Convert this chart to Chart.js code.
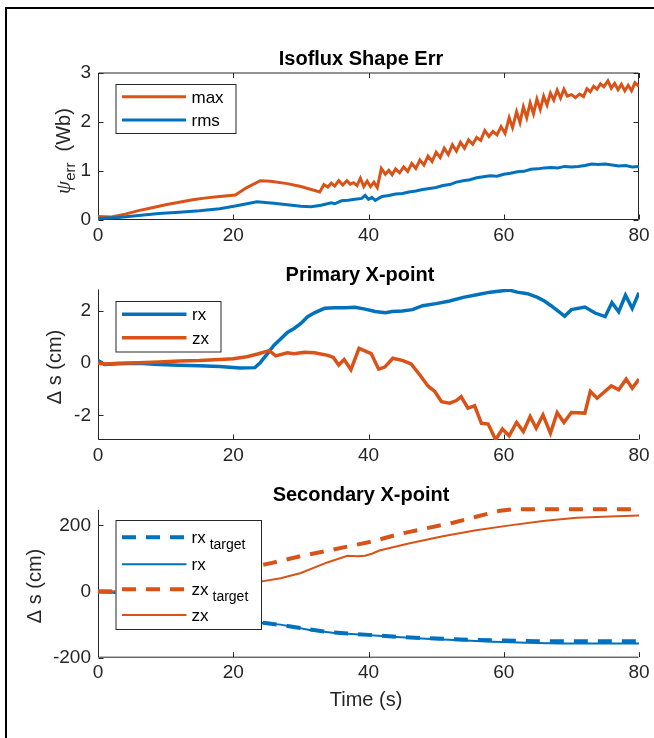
<!DOCTYPE html>
<html>
<head>
<meta charset="utf-8">
<title>X-point control</title>
<script src="https://cdn.jsdelivr.net/npm/chart.js@4.4.1/dist/chart.umd.min.js"></script>
<style>
  body { margin: 0; background: #fff; }
  #fig { position: relative; width: 654px; height: 738px; overflow: hidden; background: #fff; }
  #frame { position: absolute; left: 5px; top: 7px; width: 800px; height: 900px;
           border-left: 2px solid #000; border-top: 2px solid #000; }
  canvas { position: absolute; left: 0; }
</style>
</head>
<body>
<div id="fig">
  <div id="frame"></div>
  <canvas id="iso" width="654" height="250" style="top:0px"></canvas>
  <canvas id="pri" width="654" height="220" style="top:250px"></canvas>
  <canvas id="sec" width="654" height="268" style="top:470px"></canvas>
</div>
<script>
// ---- data ----
const timeTicks = [0, 20, 40, 60, 80];
const isoTicks = [0, 1, 2, 3];
const priTicks = [-2, 0, 2];
const secTicks = [-200, 0, 200];

// Isoflux shape error (Wb)
const isoMaxT = [0, 2, 4, 6, 8, 10, 12, 14, 16, 18, 20.3, 22, 24, 25.5, 28, 30, 32.8,
  33.4, 34.0, 34.5, 35.0, 35.6, 36.2, 36.8, 37.3, 37.8, 38.3, 38.8, 39.3, 39.8, 40.3, 40.8, 41.3,
  41.9, 42.5, 43.0, 43.5, 44.0, 44.6, 45.2, 45.8, 46.4, 47.0, 47.6, 48.2, 48.8, 49.4, 50.0, 50.6,
  51.2, 51.8, 52.4, 53.0, 53.6, 54.2, 54.8, 55.4, 56.0, 56.6, 57.2, 57.8, 58.4, 59.0, 59.6, 60.2,
  60.8, 61.3, 61.9, 62.4, 62.9, 63.4, 63.9, 64.4, 64.9, 65.4, 65.9, 66.4, 66.9, 67.4, 67.9, 68.4,
  68.9, 69.4, 70.0, 70.6, 71.2, 71.8, 72.3, 72.8, 73.3, 73.8, 74.3, 74.8, 75.4, 75.9, 76.4, 76.9,
  77.4, 77.9, 78.4, 78.9, 79.4, 80.0];
const isoMax = [0.07, 0.06, 0.12, 0.19, 0.25, 0.31, 0.36, 0.41, 0.45, 0.48, 0.51, 0.66, 0.80, 0.79, 0.74, 0.68, 0.57,
  0.72, 0.67, 0.75, 0.69, 0.80, 0.71, 0.80, 0.73, 0.76, 0.70, 0.85, 0.68, 0.79, 0.68, 0.77, 0.66,
  1.05, 0.93, 1.01, 0.92, 1.04, 0.96, 1.08, 0.99, 1.15, 1.05, 1.22, 1.12, 1.30, 1.19, 1.38, 1.27,
  1.46, 1.33, 1.53, 1.40, 1.58, 1.46, 1.63, 1.54, 1.68, 1.62, 1.82, 1.70, 1.80, 1.73, 1.90, 1.76,
  2.08, 1.88, 2.20, 1.98, 2.30, 2.08, 2.38, 2.16, 2.46, 2.25, 2.52, 2.34, 2.58, 2.44, 2.64, 2.48,
  2.66, 2.52, 2.55, 2.49, 2.56, 2.51, 2.67, 2.61, 2.72, 2.66, 2.77, 2.71, 2.83, 2.68, 2.78, 2.65,
  2.76, 2.63, 2.74, 2.63, 2.79, 2.72];
const isoRmsT = [0, 3, 6, 9, 12, 15, 18, 20.5, 23.5, 26, 28, 30, 31.5, 33, 34.5, 35, 36, 37, 38, 39, 39.5,
  40, 40.5, 41, 42, 43, 44, 45, 46, 47, 48, 49, 50, 51, 52, 53, 54, 55, 56, 57, 58, 59, 60,
  61, 62, 63, 64, 65, 66, 67, 68, 69, 70, 71, 72, 73, 74, 75, 76, 77, 78, 79, 80];
const isoRms = [0.03, 0.05, 0.09, 0.13, 0.16, 0.19, 0.23, 0.29, 0.37, 0.34, 0.31, 0.28, 0.27, 0.30, 0.35, 0.33, 0.39, 0.40, 0.42, 0.44, 0.50,
  0.42, 0.46, 0.40, 0.48, 0.50, 0.53, 0.54, 0.57, 0.59, 0.62, 0.64, 0.66, 0.70, 0.72, 0.77, 0.80, 0.82, 0.86, 0.88, 0.90, 0.89, 0.93,
  0.95, 0.98, 0.99, 1.03, 1.04, 1.06, 1.07, 1.06, 1.09, 1.08, 1.09, 1.11, 1.14, 1.13, 1.14, 1.12, 1.10, 1.11, 1.08, 1.09];

// Primary X-point (cm)
const priRxT = [0, 1, 3, 6, 9, 12, 15, 18, 21, 23.2, 24, 25, 26, 27, 28, 29, 30, 31, 32, 33.5, 35, 36.5,
  38, 39.5, 41, 42.5, 43.5, 45, 46.5, 48, 50, 52, 54, 56, 58, 59.5, 60.8, 62, 63.5, 65, 66, 67,
  68, 69, 70, 72, 73.5, 75, 76, 77, 78, 79, 80];
const priRx = [0.10, -0.05, -0.02, 0.00, -0.05, -0.08, -0.10, -0.13, -0.18, -0.17, 0.02, 0.35, 0.68, 0.93, 1.18, 1.33, 1.52, 1.78, 1.93, 2.10, 2.12, 2.12,
  2.14, 2.07, 1.98, 1.93, 1.98, 2.00, 2.05, 2.20, 2.28, 2.38, 2.52, 2.62, 2.72, 2.76, 2.80, 2.72, 2.66, 2.52, 2.38, 2.20,
  2.00, 1.80, 2.05, 2.15, 1.92, 1.78, 2.32, 1.97, 2.60, 2.10, 2.70];
const priZxT = [0, 1, 3, 6, 9, 12, 15, 18, 20, 22, 23.6, 25.3, 26.3, 28, 29, 30.5, 32, 34, 34.8, 35.6, 36.4, 37.4,
  38.6, 40.4, 41.5, 42.4, 43.6, 45.1, 46.3, 47.6, 48.8, 49.8, 50.8, 52, 53, 53.7, 54.7, 55.7, 56.7, 57.7,
  58.8, 59.8, 60.8, 61.9, 62.9, 63.9, 64.8, 65.8, 66.9, 67.9, 68.9, 70, 72, 72.8, 73.8, 75.9, 77, 78.1, 79, 80];
const priZx = [0.00, -0.03, 0.00, 0.02, 0.05, 0.08, 0.10, 0.14, 0.17, 0.25, 0.35, 0.48, 0.28, 0.40, 0.36, 0.42, 0.40, 0.30, 0.22, -0.07, 0.14, -0.25,
  0.57, 0.37, -0.23, -0.15, 0.19, 0.10, -0.03, -0.45, -0.87, -1.08, -1.47, -1.53, -1.43, -1.28, -1.72, -1.63, -2.30, -2.33,
  -2.93, -2.52, -2.78, -2.27, -2.62, -2.04, -2.49, -1.98, -2.68, -1.89, -2.27, -1.89, -1.91, -1.08, -1.34, -0.87, -1.02, -0.61, -0.96, -0.61];

// Secondary X-point (cm)
const secRxTgtT = [0, 2, 5, 10, 15, 20, 22, 25, 28, 31, 34, 37, 40, 45, 50, 55, 60, 65, 70, 75, 80];
const secRxTgt = [0, -1, -10, -35, -60, -80, -88, -96, -104, -114, -122, -127, -131, -138, -142, -146, -148, -150, -150, -150, -150];
const secRxT = [0, 2, 5, 10, 15, 20, 22, 24, 27, 31.5, 35, 38.7, 43.6, 48.5, 53.5, 58.4, 63.4, 68.3, 73.2, 80];
const secRx = [0, -3, -12, -37, -62, -82, -89, -94, -100, -117, -125, -130, -137, -143, -147, -152, -155, -157, -157, -157];
const secZxTgtT = [0, 6, 25.6, 30, 35, 40.5, 44.6, 48.5, 52.5, 55.9, 59.4, 61.5, 80];
const secZxTgt = [0, 0, 86, 107, 128, 151, 174, 191, 208, 226, 244, 249, 249];
const secZxT = [0, 3, 6, 10, 15, 20, 24, 27, 30, 33.9, 36.9, 38.4, 39.5, 40.6, 41.6, 46.1, 51, 55.9, 60.9, 65.8, 70.8, 75.7, 80];
const secZx = [0, 1, 3, 7, 13, 21, 30, 40, 56, 88, 108, 107, 108, 115, 124, 146, 167, 185, 200, 213, 223, 227, 230];

// ---- style ----
const BLUE = '#0072BD';
const ORANGE = '#D95319';
const AXIS = '#262626';
const SANS = '"Liberation Sans", Arial, Helvetica, sans-serif';
const SERIF = '"Liberation Serif", "DejaVu Serif", serif';

const pts = (t, v) => t.map((x, i) => ({ x, y: v[i] }));

function line(label, t, v, color, width, dash) {
  return {
    label, data: pts(t, v), borderColor: color, borderWidth: width,
    borderDash: dash || [], pointRadius: 0, tension: 0, fill: false
  };
}

// draws a run of text pieces (with subscript offsets) starting at x0
function drawParts(ctx, parts, x0, y0, rotate, centered) {
  ctx.save();
  ctx.translate(x0, y0);
  if (rotate) ctx.rotate(-Math.PI / 2);
  ctx.textAlign = 'left';
  ctx.textBaseline = 'alphabetic';
  let w = 0;
  parts.forEach(p => { ctx.font = p.font; w += ctx.measureText(p.text).width + (p.gap || 0); });
  let cx = centered ? -w / 2 : 0;
  parts.forEach(p => {
    ctx.font = p.font;
    cx += p.gap || 0;
    ctx.fillText(p.text, cx, p.dy || 0);
    cx += ctx.measureText(p.text).width;
  });
  ctx.restore();
}

// MATLAB-like axes: left/bottom (optionally full box), inward ticks, title, labels, legend
const matAxes = {
  id: 'matAxes',
  beforeDatasetsDraw(chart, args, o) {
    const { ctx, chartArea: a, scales: { x, y } } = chart;
    const L = a.left + 0.5, B = a.bottom - 0.5, T = a.top + 0.5, R = a.right - 0.5;
    ctx.save();
    ctx.strokeStyle = AXIS;
    ctx.lineWidth = 1;
    ctx.beginPath();
    ctx.moveTo(L, T); ctx.lineTo(L, B); ctx.lineTo(R, B);
    if (o.box) { ctx.lineTo(R, T); ctx.lineTo(L, T); }
    x.ticks.forEach(t => {
      const px = Math.round(x.getPixelForValue(t.value)) + 0.5;
      ctx.moveTo(px, B); ctx.lineTo(px, B - 5);
      if (o.box) { ctx.moveTo(px, T); ctx.lineTo(px, T + 5); }
    });
    y.ticks.forEach(t => {
      const py = Math.round(y.getPixelForValue(t.value)) + 0.5;
      ctx.moveTo(L, py); ctx.lineTo(L + 5, py);
      if (o.box) { ctx.moveTo(R, py); ctx.lineTo(R - 5, py); }
    });
    ctx.stroke();
    ctx.restore();
  },
  afterDraw(chart, args, o) {
    const { ctx, chartArea: a } = chart;
    ctx.save();
    ctx.fillStyle = '#000';
    ctx.font = 'bold 20px ' + SANS;
    ctx.textAlign = 'center';
    ctx.fillText(o.title, o.titleX, a.top - o.titleGap);
    ctx.fillStyle = AXIS;
    drawParts(ctx, o.ylabel, o.ylabelX, o.ylabelY, true, true);
    if (o.xlabel) drawParts(ctx, o.xlabel, o.xlabelX, o.xlabelY, false, true);

    const L = o.legend;
    ctx.fillStyle = '#fff';
    ctx.fillRect(L.x, L.y, L.w, L.h);
    ctx.strokeStyle = AXIS;
    ctx.lineWidth = 1;
    ctx.strokeRect(L.x + 0.5, L.y + 0.5, L.w, L.h);
    L.rows.forEach(r => {
      ctx.strokeStyle = r.color;
      ctx.lineWidth = r.width;
      ctx.setLineDash(r.dash || []);
      ctx.beginPath();
      ctx.moveTo(L.lineX0, r.y);
      ctx.lineTo(L.lineX1, r.y);
      ctx.stroke();
      ctx.setLineDash([]);
      ctx.fillStyle = '#000';
      drawParts(ctx, r.parts, L.textX, r.y + 6, false, false);
    });
    ctx.restore();
  }
};

function makeChart(id, c) {
  c.datasets.forEach(d => { if (c.clip !== undefined) d.clip = c.clip; });
  return new Chart(document.getElementById(id), {
    type: 'line',
    data: { datasets: c.datasets },
    options: {
      responsive: false,
      animation: false,
      events: [],
      layout: { padding: { left: 0, right: 15, top: c.top, bottom: 0 } },
      plugins: { legend: { display: false }, tooltip: { enabled: false }, matAxes: c.frame },
      scales: {
        x: {
          type: 'linear', min: 0, max: 80,
          grid: { display: false, drawTicks: false }, border: { display: false },
          afterBuildTicks: s => { s.ticks = timeTicks.map(v => ({ value: v })); },
          afterFit: s => { s.height = c.height - c.bottom; },
          ticks: { color: AXIS, font: { family: SANS, size: 19 }, padding: 4, maxRotation: 0, autoSkip: false }
        },
        y: {
          type: 'linear', min: c.ymin, max: c.ymax,
          grid: { display: false, drawTicks: false }, border: { display: false },
          afterBuildTicks: s => { s.ticks = c.yticks.map(v => ({ value: v })); },
          afterFit: s => { s.width = 98; },
          ticks: { color: AXIS, font: { family: SANS, size: 19 }, padding: 7, autoSkip: false }
        }
      }
    },
    plugins: [matAxes]
  });
}

const legFont = '17px ' + SANS;
const subFont = '14px ' + SANS;

makeChart('iso', {
  height: 250, top: 72.5, bottom: 220, ymin: 0, ymax: 3, yticks: isoTicks,
  datasets: [
    line('rms', isoRmsT, isoRms, BLUE, 3),
    line('max', isoMaxT, isoMax, ORANGE, 3)
  ],
  frame: {
    box: true,
    title: 'Isoflux Shape Err', titleX: 361, titleGap: 8,
    ylabel: [
      { text: 'ψ', font: 'italic 21px ' + SERIF },
      { text: 'err', font: '15px ' + SANS, dy: 5 },
      { text: '  (Wb)', font: '20px ' + SANS }
    ],
    ylabelX: 70, ylabelY: 151,
    legend: {
      x: 115.5, y: 84, w: 120, h: 49, lineX0: 122, lineX1: 186, textX: 191.5,
      rows: [
        { y: 96.7, color: ORANGE, width: 3, parts: [{ text: 'max', font: legFont }] },
        { y: 120, color: BLUE, width: 3, parts: [{ text: 'rms', font: legFont }] }
      ]
    }
  }
});

makeChart('pri', {
  height: 220, top: 39, bottom: 190, ymin: -2.94, ymax: 2.84, yticks: priTicks,
  datasets: [
    line('zx', priZxT, priZx, ORANGE, 3.5),
    line('rx', priRxT, priRx, BLUE, 3.5)
  ],
  frame: {
    box: false,
    title: 'Primary X-point', titleX: 360, titleGap: 8,
    ylabel: [{ text: 'Δ s (cm)', font: '20px ' + SANS }],
    ylabelX: 61, ylabelY: 117,
    legend: {
      x: 115.5, y: 51, w: 105, h: 50.5, lineX0: 122, lineX1: 186.5, textX: 192,
      rows: [
        { y: 64.3, color: BLUE, width: 3.5, parts: [{ text: 'rx', font: legFont }] },
        { y: 87.7, color: ORANGE, width: 3.5, parts: [{ text: 'zx', font: legFont }] }
      ]
    }
  }
});

makeChart('sec', {
  height: 268, top: 39.3, bottom: 187.7, ymin: -200, ymax: 248.6, yticks: secTicks, clip: 4,
  datasets: [
    line('zx', secZxT, secZx, ORANGE, 2),
    line('zx target', secZxTgtT, secZxTgt, ORANGE, 4, [14, 10]),
    line('rx', secRxT, secRx, BLUE, 2),
    line('rx target', secRxTgtT, secRxTgt, BLUE, 4, [14, 10])
  ],
  frame: {
    box: false,
    title: 'Secondary X-point', titleX: 361, titleGap: 8,
    ylabel: [{ text: 'Δ s (cm)', font: '20px ' + SANS }],
    ylabelX: 41, ylabelY: 116,
    xlabel: [{ text: 'Time (s)', font: '20px ' + SANS }],
    xlabelX: 366, xlabelY: 236,
    legend: {
      x: 115.5, y: 50, w: 145.5, h: 109, lineX0: 122, lineX1: 186.5, textX: 191.5,
      rows: [
        { y: 67.3, color: BLUE, width: 4, dash: [14, 10],
          parts: [{ text: 'rx', font: legFont }, { text: 'target', font: subFont, dy: 6, gap: 4 }] },
        { y: 94.3, color: BLUE, width: 2, parts: [{ text: 'rx', font: legFont }] },
        { y: 119.3, color: ORANGE, width: 4, dash: [14, 10],
          parts: [{ text: 'zx', font: legFont }, { text: 'target', font: subFont, dy: 6, gap: 4 }] },
        { y: 145, color: ORANGE, width: 2, parts: [{ text: 'zx', font: legFont }] }
      ]
    }
  }
});
</script>
</body>
</html>
